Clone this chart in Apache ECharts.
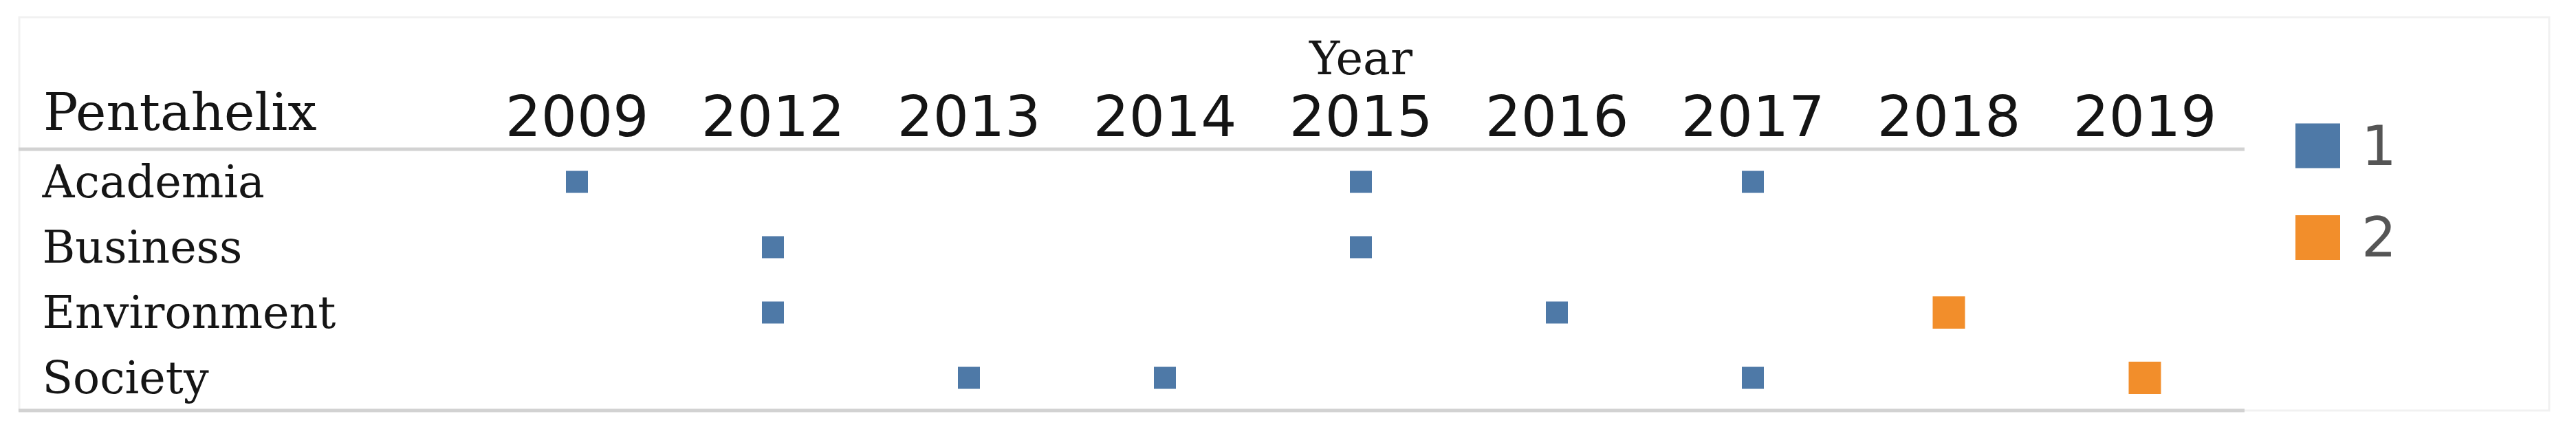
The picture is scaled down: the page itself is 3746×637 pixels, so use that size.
<!DOCTYPE html>
<html>
<head>
<meta charset="utf-8">
<script src="https://cdn.jsdelivr.net/npm/echarts@6/dist/echarts.min.js"></script>
<style>
html,body{margin:0;padding:0;background:#fff;}
#chart{width:3746px;height:637px;}
</style>
</head>
<body>
<div id="chart"></div>
<script>
// ---- data ----
const years = ['2009','2012','2013','2014','2015','2016','2017','2018','2019'];
const actors = ['Academia','Business','Environment','Society'];
const academia    = [1,0,0,0,1,0,1,0,0];
const business    = [0,1,0,0,1,0,0,0,0];
const environment = [0,1,0,0,0,1,0,2,0];
const society     = [0,0,1,1,0,0,1,0,2];
const legendValues = ['1','2'];

const rows = [academia, business, environment, society];
const colors = {'1':'#4e79a7','2':'#f28e2b'};
const sizes = {'1':32,'2':47};

function pointsFor(v){
  const out = [];
  rows.forEach((r,ri)=>{
    r.forEach((c,ci)=>{ if(String(c)===v) out.push([years[ci], actors[ri], c]); });
  });
  return out;
}

const chart = echarts.init(document.getElementById('chart'), null, {renderer:'svg'});
const lineColor = '#d2d2d2';
chart.setOption({
  animation:false,
  backgroundColor:'#ffffff',
  title:{
    text:'Pentahelix',
    left:63, top:121, padding:0,
    textStyle:{fontFamily:'DejaVu Serif', fontSize:75, fontWeight:'normal', color:'#151515', lineHeight:84}
  },
  grid:{left:696.5, right:3746-3261.5, top:217, bottom:637-597, containLabel:false},
  xAxis:{
    type:'category', data:years, position:'top', boundaryGap:true,
    axisLine:{show:false}, axisTick:{show:false}, splitLine:{show:false},
    axisLabel:{fontFamily:'DejaVu Sans', fontSize:82, color:'#141414', margin:48, verticalAlign:'middle', interval:0},
    name:'Year', nameLocation:'middle', nameGap:132,
    nameTextStyle:{fontFamily:'DejaVu Serif', fontSize:67, color:'#151515', verticalAlign:'middle'}
  },
  yAxis:{
    type:'category', data:actors, inverse:true, boundaryGap:true,
    axisLine:{show:false}, axisTick:{show:false}, splitLine:{show:false},
    axisLabel:{fontFamily:'DejaVu Serif', fontSize:65, color:'#151515', align:'left', margin:635, interval:0}
  },
  legend:{
    orient:'vertical', left:3338, top:172, padding:0,
    data:legendValues, icon:'rect', itemWidth:65, itemHeight:65, itemGap:53.5,
    textStyle:{fontFamily:'DejaVu Sans', fontSize:80, color:'#555555', lineHeight:65, padding:[0,0,0,26]}
  },
  graphic:[
    {type:'rect', shape:{x:28, y:25, width:3679, height:572}, style:{fill:'none', stroke:'#f1f1f1', lineWidth:3}, silent:true, z:-1},
    {type:'line', shape:{x1:27, y1:217, x2:3264, y2:217}, style:{stroke:lineColor, lineWidth:5}, silent:true},
    {type:'line', shape:{x1:27, y1:597, x2:3264, y2:597}, style:{stroke:lineColor, lineWidth:5}, silent:true}
  ],
  series: legendValues.map(v=>({
    name:v, type:'scatter', symbol:'rect', symbolSize:sizes[v],
    itemStyle:{color:colors[v], opacity:1},
    data:pointsFor(v)
  }))
});
</script>
</body>
</html>
